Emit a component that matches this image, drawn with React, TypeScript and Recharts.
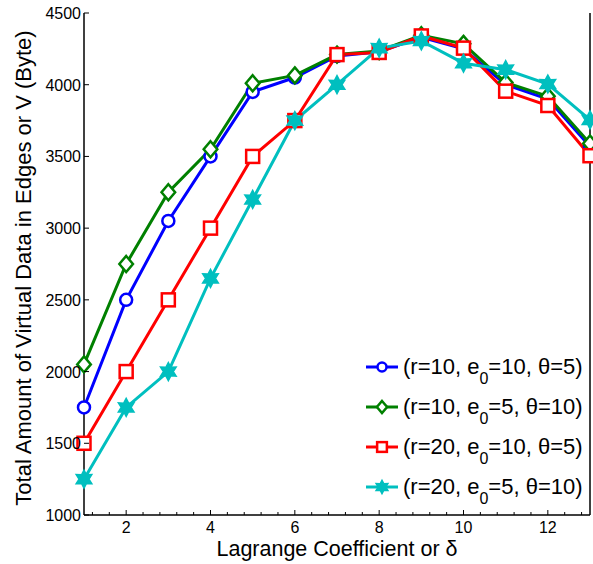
import React from 'react'
import { Label, Legend, Line, LineChart, XAxis, YAxis } from 'recharts'

// x = Lagrange coefficient (delta)
const DELTAS = [1, 2, 3, 4, 5, 6, 7, 8, 9, 10, 11, 12, 13]

const R10_E10_T5 = [1750, 2500, 3050, 3500, 3950, 4050, 4200, 4230, 4330, 4250, 4000, 3900, 3570]
const R10_E5_T10 = [2050, 2750, 3250, 3550, 4010, 4065, 4210, 4235, 4345, 4285, 4015, 3920, 3590]
const R20_E10_T5 = [1500, 2000, 2500, 3000, 3500, 3750, 4210, 4225, 4340, 4255, 3955, 3855, 3505]
const R20_E5_T10 = [1250, 1750, 2000, 2650, 3200, 3750, 4000, 4255, 4305, 4150, 4105, 4005, 3755]

const X_MAJOR = [2, 4, 6, 8, 10, 12]
const X_TICKS = [1.2, 1.6, 2, 2.4, 2.8, 3.2, 3.6, 4, 4.4, 4.8, 5.2, 5.6, 6, 6.4, 6.8, 7.2, 7.6, 8, 8.4, 8.8, 9.2, 9.6, 10, 10.4, 10.8, 11.2, 11.6, 12, 12.4, 12.8]
const Y_TICKS = [1000, 1500, 2000, 2500, 3000, 3500, 4000, 4500]

const FONT = 'Arial, "Liberation Sans", Helvetica, sans-serif'

const SERIES = [
  { key: 'a', r: '10', e: '10', t: '5', color: '#0000ff', marker: 'circle' },
  { key: 'b', r: '10', e: '5', t: '10', color: '#008000', marker: 'diamond' },
  { key: 'c', r: '20', e: '10', t: '5', color: '#ff0000', marker: 'square' },
  { key: 'd', r: '20', e: '5', t: '10', color: '#00bfbf', marker: 'star' },
]

const data = DELTAS.map((d, i) => ({
  d,
  a: R10_E10_T5[i],
  b: R10_E5_T10[i],
  c: R20_E10_T5[i],
  d2: R20_E5_T10[i],
}))

function starPath(cx: number, cy: number, R: number) {
  const r = R * 0.55
  const pts: string[] = []
  for (let i = 0; i < 12; i++) {
    const ang = (Math.PI / 6) * i - Math.PI / 2
    const rad = i % 2 === 0 ? R : r
    pts.push(`${cx + rad * Math.cos(ang)},${cy + rad * Math.sin(ang)}`)
  }
  return `M${pts.join('L')}Z`
}

function Marker({ kind, cx, cy, color, s = 1 }: { kind: string; cx: number; cy: number; color: string; s?: number }) {
  if (kind === 'circle') {
    return <circle cx={cx} cy={cy} r={6 * s} fill="#fff" stroke={color} strokeWidth={2.5} />
  }
  if (kind === 'diamond') {
    const h = 8 * s
    return (
      <path
        d={`M${cx},${cy - h}L${cx + h * 0.85},${cy}L${cx},${cy + h}L${cx - h * 0.85},${cy}Z`}
        fill="#fff"
        stroke={color}
        strokeWidth={2.5}
      />
    )
  }
  if (kind === 'square') {
    const h = 6.5 * s
    return <rect x={cx - h} y={cy - h} width={h * 2} height={h * 2} fill="#fff" stroke={color} strokeWidth={2.5} />
  }
  return <path d={starPath(cx, cy, 9 * s)} fill={color} stroke={color} strokeWidth={1.5} />
}

function makeDot(kind: string, color: string) {
  return function Dot(props: any) {
    const { cx, cy, index } = props
    if (cx == null || cy == null) return <g key={index} />
    return <Marker key={index} kind={kind} cx={cx} cy={cy} color={color} />
  }
}

const BottomTick = (props: any) => {
  const { x, y, payload } = props
  const major = X_MAJOR.includes(payload.value)
  return (
    <g>
      <line x1={x} y1={y} x2={x} y2={y - (major ? 5 : 3)} stroke="#000" strokeWidth={1} />
      {major ? (
        <text x={x} y={y + 18} textAnchor="middle" fontSize={16} fontFamily={FONT} fill="#000">
          {payload.value}
        </text>
      ) : null}
    </g>
  )
}

const TopTick = (props: any) => {
  const { x, y, payload } = props
  const major = X_MAJOR.includes(payload.value)
  return <line x1={x} y1={y} x2={x} y2={y + (major ? 5 : 3)} stroke="#000" strokeWidth={1} />
}

const LeftTick = (props: any) => {
  const { x, y, payload } = props
  return (
    <g>
      <line x1={x} y1={y} x2={x + 5} y2={y} stroke="#000" strokeWidth={1} />
      <text x={x - 3} y={y + 6} textAnchor="end" fontSize={16} fontFamily={FONT} fill="#000">
        {payload.value}
      </text>
    </g>
  )
}

const RightTick = (props: any) => {
  const { x, y } = props
  return <line x1={x} y1={y} x2={x - 5} y2={y} stroke="#000" strokeWidth={1} />
}

const LegendBox = () => (
  <div style={{ fontFamily: FONT, fontSize: 22, color: '#000', lineHeight: '40px' }}>
    {SERIES.map((s) => (
      <div key={s.key} style={{ display: 'flex', alignItems: 'center', height: 40, whiteSpace: 'nowrap' }}>
        <svg width={36} height={20} style={{ marginRight: 3 }}>
          <line x1={2} y1={10} x2={34} y2={10} stroke={s.color} strokeWidth={3} />
          <Marker kind={s.marker} cx={18} cy={10} color={s.color} s={0.75} />
        </svg>
        <span>
          (r={s.r}, e
          <sub style={{ fontSize: 16, verticalAlign: '-10px', lineHeight: 0 }}>0</sub>={s.e}, θ={s.t})
        </span>
      </div>
    ))}
  </div>
)

export default function App() {
  return (
    <div style={{ position: 'absolute', left: 0, top: 0, width: 593, height: 564, background: '#fff' }}>
      <LineChart width={593} height={564} data={data} margin={{ top: 13, right: 0, bottom: 0, left: 0 }}>
        <XAxis
          xAxisId="b"
          dataKey="d"
          type="number"
          domain={[1, 13]}
          ticks={X_TICKS}
          interval={0}
          height={49}
          tickSize={0}
          tickMargin={0}
          tickLine={false}
          tick={<BottomTick />}
          axisLine={{ stroke: '#000', strokeWidth: 1.5 }}
        >
          <Label
            content={() => (
              <text x={337} y={556} textAnchor="middle" fontSize={21.5} fontFamily={FONT} fill="#000">
                Lagrange Coefficient or δ
              </text>
            )}
          />
        </XAxis>
        <XAxis
          xAxisId="t"
          orientation="top"
          dataKey="d"
          type="number"
          domain={[1, 13]}
          ticks={X_TICKS}
          interval={0}
          height={0}
          tickSize={0}
          tickMargin={0}
          tickLine={false}
          tick={<TopTick />}
          axisLine={{ stroke: '#000', strokeWidth: 1.5 }}
        />
        <YAxis
          yAxisId="l"
          type="number"
          domain={[1000, 4500]}
          ticks={Y_TICKS}
          interval={0}
          width={84}
          tickSize={0}
          tickMargin={0}
          tickLine={false}
          tick={<LeftTick />}
          axisLine={{ stroke: '#000', strokeWidth: 1.5 }}
        >
          <Label
            content={() => (
              <text
                x={0}
                y={0}
                transform="translate(31,268) rotate(-90)"
                textAnchor="middle"
                fontSize={22}
                fontFamily={FONT}
                fill="#000"
              >
                Total Amount of Virtual Data in Edges or V (Byte)
              </text>
            )}
          />
        </YAxis>
        <YAxis
          yAxisId="r"
          orientation="right"
          type="number"
          domain={[1000, 4500]}
          ticks={Y_TICKS}
          interval={0}
          width={3}
          tickSize={0}
          tickMargin={0}
          tickLine={false}
          tick={<RightTick />}
          axisLine={{ stroke: '#000', strokeWidth: 1.5 }}
        />
        <Legend
          layout="vertical"
          align="center"
          verticalAlign="middle"
          content={<LegendBox />}
          wrapperStyle={{ left: 364, top: 347, width: 'auto' }}
        />
        {SERIES.map((s) => (
          <Line
            key={s.key}
            xAxisId="b"
            yAxisId="l"
            type="linear"
            dataKey={s.key === 'd' ? 'd2' : s.key}
            stroke={s.color}
            strokeWidth={3}
            dot={makeDot(s.marker, s.color)}
            activeDot={false}
            isAnimationActive={false}
          />
        ))}
      </LineChart>
    </div>
  )
}
